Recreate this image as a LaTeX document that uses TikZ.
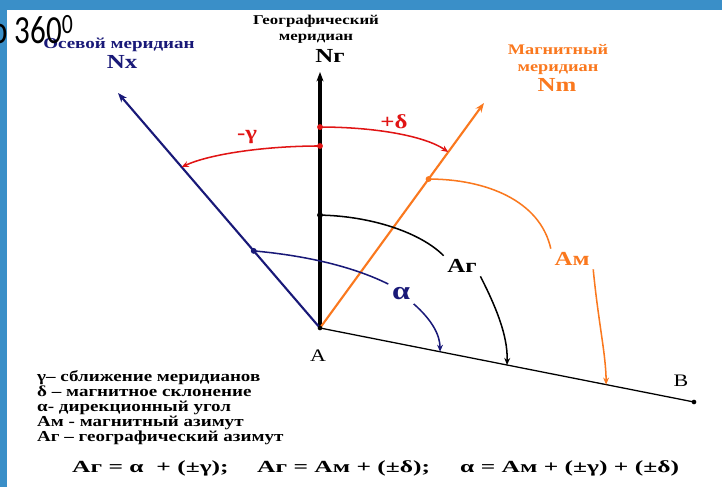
\documentclass[tikz,border=0pt]{standalone}
\usepackage{fontspec}
\setmainfont{Liberation Serif}
\newfontfamily\wideserif[FakeStretch=1.25]{Liberation Serif}
\newfontfamily\widerserif[FakeStretch=1.5]{Liberation Serif}
\newfontfamily\slidefont[FakeStretch=0.78]{Carlito}
\usetikzlibrary{arrows.meta,calc}
\definecolor{SlideBlue}{RGB}{58,143,200}
\definecolor{AxNavy}{RGB}{25,25,120}
\definecolor{MagOrange}{RGB}{250,120,30}
\definecolor{DeclRed}{RGB}{225,20,20}

\begin{document}
\begin{tikzpicture}[x=0.03cm,y=-0.03cm,
  lbl/.style={inner sep=2pt,font=\wideserif\bfseries\fontsize{17}{17}\selectfont},
  ttl/.style={inner sep=0pt,align=center,font=\wideserif\bfseries\fontsize{11.5}{13.7}\selectfont},
  pdot/.style={circle,fill,inner sep=0pt,minimum size=5pt},
  meridian/.style={-{Stealth[length=8pt,width=6pt]}},
  angarc/.style={line width=1.3pt,-{Stealth[length=6pt,width=5pt]}},
  angline/.style={line width=1.3pt},
  formula/.style={anchor=base west,inner sep=0pt,font=\widerserif\bfseries\fontsize{14.5}{14.5}\selectfont},
]
\useasboundingbox (0,0) rectangle (722,487);
\fill[SlideBlue] (0,0) rectangle (722,487);
\fill[white] (7,10) rectangle (722,487);

\coordinate (A) at (320,328);
\coordinate (B) at (694,402);
\coordinate (Ng) at (320,72);
\coordinate (Nx) at (118,93);
\coordinate (Nm) at (484,103);

\node[ttl] (tgeo) at (316,29) {Географический\\меридиан};
\node[lbl] (lNg) at (330,56) {Nг};
\node[ttl,AxNavy,font=\wideserif\bfseries\fontsize{13}{14}\selectfont] (tax) at (119,45) {Осевой меридиан};
\node[lbl,AxNavy] (lNx) at (122,62) {Nx};
\node[ttl,MagOrange,font=\wideserif\bfseries\fontsize{12.5}{14.5}\selectfont] (tmag) at (558,60) {Магнитный\\меридиан};
\node[lbl,MagOrange] (lNm) at (557,85) {Nm};

\draw[meridian,line width=2.6pt] (A) -- (Ng);
\draw[meridian,AxNavy,line width=1.8pt] (A) -- (Nx);
\draw[meridian,MagOrange,line width=1.8pt] (A) -- (Nm);
\draw[line width=1.1pt] (A) -- (B);
\node[pdot,minimum size=4pt] (pA) at (A) {};
\node[pdot,minimum size=4pt] (pB) at (B) {};
\node[lbl,font=\wideserif\fontsize{15}{15}\selectfont] (lA) at (318,356) {A};
\node[lbl,font=\wideserif\fontsize{15}{15}\selectfont] (lB) at (681,381) {B};

\node[pdot,DeclRed] (dd) at ($(A)!0.785!(Ng)$) {};
\node[pdot,DeclRed] (dg) at ($(A)!0.711!(Ng)$) {};
\node[pdot] (da) at ($(A)!0.441!(Ng)$) {};
\node[pdot,AxNavy] (dx) at ($(A)!0.328!(Nx)$) {};
\node[pdot,MagOrange] (dm) at ($(A)!0.662!(Nm)$) {};
\coordinate (ed) at ($(A)!0.782!(Nm)$);
\coordinate (eg) at ($(A)!0.685!(Nx)$);
\coordinate (ea) at ($(A)!0.321!(B)$);
\coordinate (eAg) at ($(A)!0.5!(B)$);
\coordinate (eAm) at ($(A)!0.765!(B)$);

\node[lbl,DeclRed] (ldelta) at (394,122) {+δ};
\node[lbl,DeclRed] (lgamma) at (247,137) {-γ};
\node[lbl,inner sep=3pt] (lAg) at (462,266) {Аг};
\node[lbl,inner sep=3pt,MagOrange] (lAm) at (572,259) {Ам};
\node[lbl,inner sep=3pt,AxNavy,font=\wideserif\bfseries\fontsize{22}{22}\selectfont] (lal) at (401,294) {α};

\draw[angarc,DeclRed] (dd.center) .. controls (375,127) and (425,136) .. (ed);
\draw[angarc,DeclRed] (dg.center) .. controls (265,146) and (210,154) .. (eg);
\draw[angline] (da.center) .. controls (370,216) and (420,232) .. (lAg.north west);
\draw[angarc] (lAg.south east) .. controls (495,305) and (508,335) .. (eAg);
\draw[angline,MagOrange] (dm.center) .. controls (485,179) and (540,200) .. (lAm.north west);
\draw[angarc,MagOrange] (lAm.south east) .. controls (598,320) and (606,355) .. (eAm);
\draw[angline,AxNavy] (dx.center) .. controls (300,255) and (350,265) .. (lal.north west);
\draw[angarc,AxNavy] (lal.south east) .. controls (432,320) and (440,335) .. (ea);

\node[anchor=north west,align=left,inner sep=0pt,font=\wideserif\bfseries\fontsize{13}{12.9}\selectfont] (legend) at (37,370) {γ– сближение меридианов\\δ – магнитное склонение\\α- дирекционный угол\\Ам - магнитный азимут\\Аг – географический азимут};

\node[formula] (f1) at (72,472) {Аг = α \ + (±γ);};
\node[formula] (f2) at (257,472) {Аг = Ам + (±δ);};
\node[formula] (f3) at (460,472) {α = Ам + (±γ) + (±δ)};

\node[anchor=base west,inner sep=0pt,font=\slidefont\fontsize{34}{34}\selectfont] (deg) at (-9,44) {о 360\textsuperscript{0}};
\end{tikzpicture}
\end{document}
